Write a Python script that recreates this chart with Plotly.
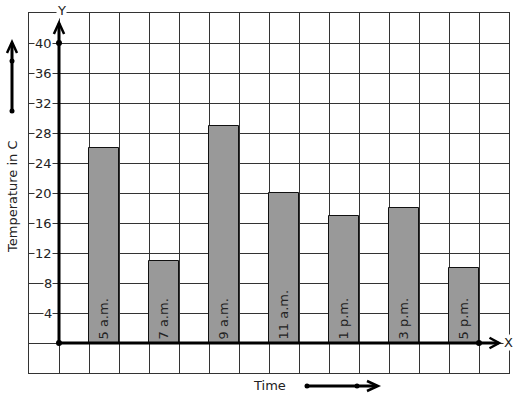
import plotly.graph_objects as go

# Data
times = ["5 a.m.", "7 a.m.", "9 a.m.", "11 a.m.", "1 p.m.", "3 p.m.", "5 p.m."]
temps = [26, 11, 29, 20, 17, 18, 10]
bar_pos = [1.5, 3.5, 5.5, 7.5, 9.5, 11.5, 13.5]
ytick_vals = [4, 8, 12, 16, 20, 24, 28, 32, 36, 40]

W, H = 517, 399
L, R, T, B = 29, 8, 13, 26
PW, PH = W - L - R, H - T - B
FONT = "DejaVu Sans"

fig = go.Figure()
fig.add_trace(go.Bar(
    x=bar_pos, y=temps, width=1,
    marker=dict(color="#999999", line=dict(color="#111111", width=1)),
    text=times, textposition="inside", insidetextanchor="start",
    textangle=-90, constraintext="none",
    textfont=dict(family=FONT, size=13, color="#222222"),
    hoverinfo="skip",
))

# dots on axes
fig.add_trace(go.Scatter(
    x=[0, 0, 14], y=[0, 40, 0], mode="markers",
    marker=dict(color="black", size=6), cliponaxis=False, hoverinfo="skip",
))

shapes = []
# axis lines
shapes.append(dict(type="line", xref="x", yref="y", x0=0, y0=0, x1=0, y1=42.6,
                   line=dict(color="black", width=3)))
shapes.append(dict(type="line", xref="x", yref="y", x0=0, y0=0, x1=14.65, y1=0,
                   line=dict(color="black", width=3)))
# arrowheads (open V)
shapes.append(dict(type="path", xref="x", yref="y",
                   path="M -0.17,41.2 L 0,42.7 L 0.17,41.2",
                   line=dict(color="black", width=2.5)))
shapes.append(dict(type="path", xref="x", yref="y",
                   path="M 14.35,0.7 L 14.67,0 L 14.35,-0.7",
                   line=dict(color="black", width=2.5)))

def px(xp):
    return (xp - L) / PW

def py(yp):
    return (H - B - yp) / PH

# left decorative arrow
shapes.append(dict(type="line", xref="paper", yref="paper", x0=px(12), y0=py(111), x1=px(12), y1=py(43),
                   line=dict(color="black", width=3)))
shapes.append(dict(type="path", xref="paper", yref="paper",
                   path=f"M {px(7)},{py(53)} L {px(12)},{py(42)} L {px(17)},{py(53)}",
                   line=dict(color="black", width=2.5)))
for yy in (61, 111):
    shapes.append(dict(type="circle", xref="paper", yref="paper",
                       x0=px(9.5), x1=px(14.5), y0=py(yy + 2.5), y1=py(yy - 2.5),
                       fillcolor="black", line=dict(color="black", width=0)))
# bottom decorative arrow
shapes.append(dict(type="line", xref="paper", yref="paper", x0=px(307), y0=py(386), x1=px(377), y1=py(386),
                   line=dict(color="black", width=3)))
shapes.append(dict(type="path", xref="paper", yref="paper",
                   path=f"M {px(367)},{py(381)} L {px(378)},{py(386)} L {px(367)},{py(391)}",
                   line=dict(color="black", width=2.5)))
for xx in (307, 357):
    shapes.append(dict(type="circle", xref="paper", yref="paper",
                       x0=px(xx - 2.5), x1=px(xx + 2.5), y0=py(386 + 2.5), y1=py(386 - 2.5),
                       fillcolor="black", line=dict(color="black", width=0)))

annotations = []
for v in ytick_vals:
    annotations.append(dict(x=-0.2, y=v, xref="x", yref="y", text=str(v), showarrow=False,
                            xanchor="right", yanchor="middle", bgcolor="white", borderpad=0,
                            font=dict(family=FONT, size=13, color="#222222")))
annotations.append(dict(x=px(61), y=py(10), xref="paper", yref="paper", text="Y", showarrow=False,
                        xanchor="center", yanchor="middle", bgcolor="white", borderpad=0,
                        font=dict(family=FONT, size=13, color="#222222")))
annotations.append(dict(x=px(508), y=py(342), xref="paper", yref="paper", text="X", showarrow=False,
                        xanchor="center", yanchor="middle", bgcolor="white", borderpad=0,
                        font=dict(family=FONT, size=13, color="#222222")))
annotations.append(dict(x=px(12), y=py(197), xref="paper", yref="paper", text="Temperature in C",
                        showarrow=False, textangle=-90, xanchor="center", yanchor="middle",
                        font=dict(family=FONT, size=13, color="#222222")))
annotations.append(dict(x=px(269), y=py(385), xref="paper", yref="paper", text="Time",
                        showarrow=False, xanchor="center", yanchor="middle",
                        font=dict(family=FONT, size=13, color="#222222")))

fig.update_layout(
    width=W, height=H,
    margin=dict(l=L, r=R, t=T, b=B, pad=0),
    paper_bgcolor="white", plot_bgcolor="white",
    showlegend=False, bargap=0,
    font=dict(family=FONT),
    shapes=shapes, annotations=annotations,
    xaxis=dict(range=[-1, 15], tick0=0, dtick=1, showgrid=True, gridcolor="#333333", gridwidth=1,
               showticklabels=False, ticks="", zeroline=False, showline=True, mirror=True,
               linecolor="#333333", linewidth=1, fixedrange=True),
    yaxis=dict(range=[-4, 44], tick0=0, dtick=4, showgrid=True, gridcolor="#333333", gridwidth=1,
               showticklabels=False, ticks="", zeroline=False, showline=True, mirror=True,
               linecolor="#333333", linewidth=1, fixedrange=True),
)

fig.write_html("out.html", config={"displayModeBar": False},
               post_script="document.body.style.margin='0';document.body.style.overflow='hidden';")
